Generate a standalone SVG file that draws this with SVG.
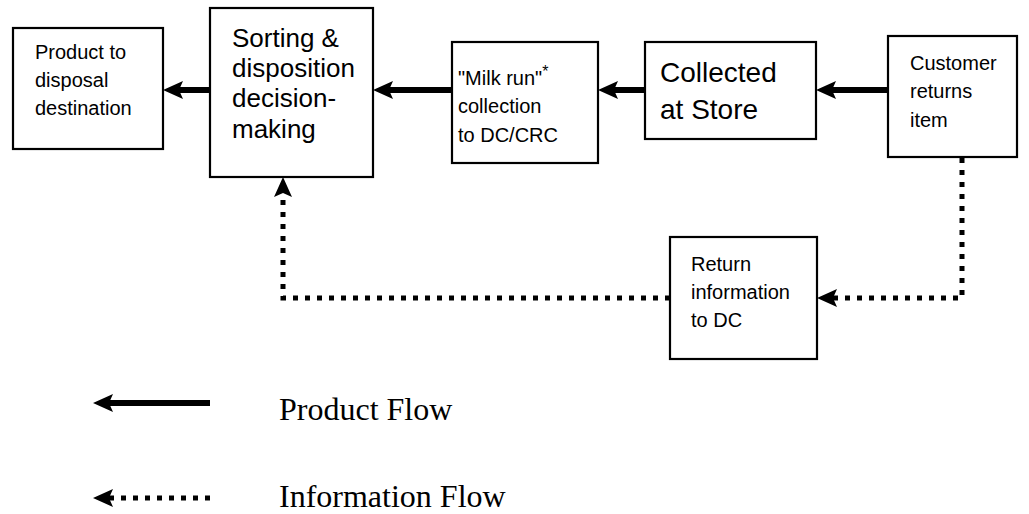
<svg xmlns="http://www.w3.org/2000/svg" width="1029" height="514" viewBox="0 0 1029 514">
  <style>
    .box { fill: #fff; stroke: #000; stroke-width: 2.2; }
    .lbl { font-family: "Liberation Sans", Arial, sans-serif; fill: #000; }
    .s20 { font-size: 20px; }
    .s26 { font-size: 26px; }
    .s28 { font-size: 28px; }
    .leg { font-family: "Liberation Serif", "Times New Roman", serif; font-size: 32px; fill: #000; }
    .solid { fill: none; stroke: #000; stroke-width: 6; marker-end: url(#head); }
    .dots { fill: none; stroke: #000; stroke-width: 5; stroke-dasharray: 5 7; marker-end: url(#head); }
  </style>
  <defs>
    <marker id="head" markerUnits="userSpaceOnUse" viewBox="0 0 20 18" refX="8" refY="9" markerWidth="20" markerHeight="18" orient="auto">
      <path d="M0,0 L20,9 L0,18 L4,9 z" fill="#000"/>
    </marker>
  </defs>

  <!-- process boxes -->
  <g id="disposal">
    <rect class="box" x="13" y="28" width="150" height="121"/>
    <text class="lbl s20" x="35" y="59">Product to</text>
    <text class="lbl s20" x="35" y="87">disposal</text>
    <text class="lbl s20" x="35" y="115">destination</text>
  </g>
  <g id="sorting">
    <rect class="box" x="210" y="8" width="163" height="169"/>
    <text class="lbl s26" x="232" y="47">Sorting &amp;</text>
    <text class="lbl s26" x="232" y="77">disposition</text>
    <text class="lbl s26" x="232" y="107">decision-</text>
    <text class="lbl s26" x="232" y="138">making</text>
  </g>
  <g id="milkrun">
    <rect class="box" x="452" y="42" width="146" height="121"/>
    <text class="lbl s20" x="458" y="85">"Milk run"<tspan font-size="16" dy="-8">*</tspan></text>
    <text class="lbl s20" x="458" y="113">collection</text>
    <text class="lbl s20" x="458" y="142">to DC/CRC</text>
  </g>
  <g id="store">
    <rect class="box" x="645" y="42" width="171" height="97"/>
    <text class="lbl s28" x="660" y="82">Collected</text>
    <text class="lbl s28" x="660" y="119">at Store</text>
  </g>
  <g id="customer">
    <rect class="box" x="888" y="36" width="129" height="121"/>
    <text class="lbl s20" x="910" y="70">Customer</text>
    <text class="lbl s20" x="910" y="98">returns</text>
    <text class="lbl s20" x="910" y="127">item</text>
  </g>
  <g id="returninfo">
    <rect class="box" x="670" y="237" width="147" height="122"/>
    <text class="lbl s20" x="691" y="271">Return</text>
    <text class="lbl s20" x="691" y="299">information</text>
    <text class="lbl s20" x="691" y="327">to DC</text>
  </g>

  <!-- connectors -->
  <g id="connectors">
    <path class="solid" d="M888,90 H828"/>
    <path class="solid" d="M645,90 H610"/>
    <path class="solid" d="M452,90 H385"/>
    <path class="solid" d="M210,90 H175"/>
    <path class="dots" d="M962,158 V298 H829"/>
    <path class="dots" d="M670,298 H283 V189"/>
  </g>

  <!-- legend -->
  <g id="legend">
    <path class="solid" d="M210,403 H105"/>
    <text class="leg" x="279" y="420">Product Flow</text>
    <path class="dots" d="M210,498 H105"/>
    <text class="leg" x="279" y="507">Information Flow</text>
  </g>
</svg>
